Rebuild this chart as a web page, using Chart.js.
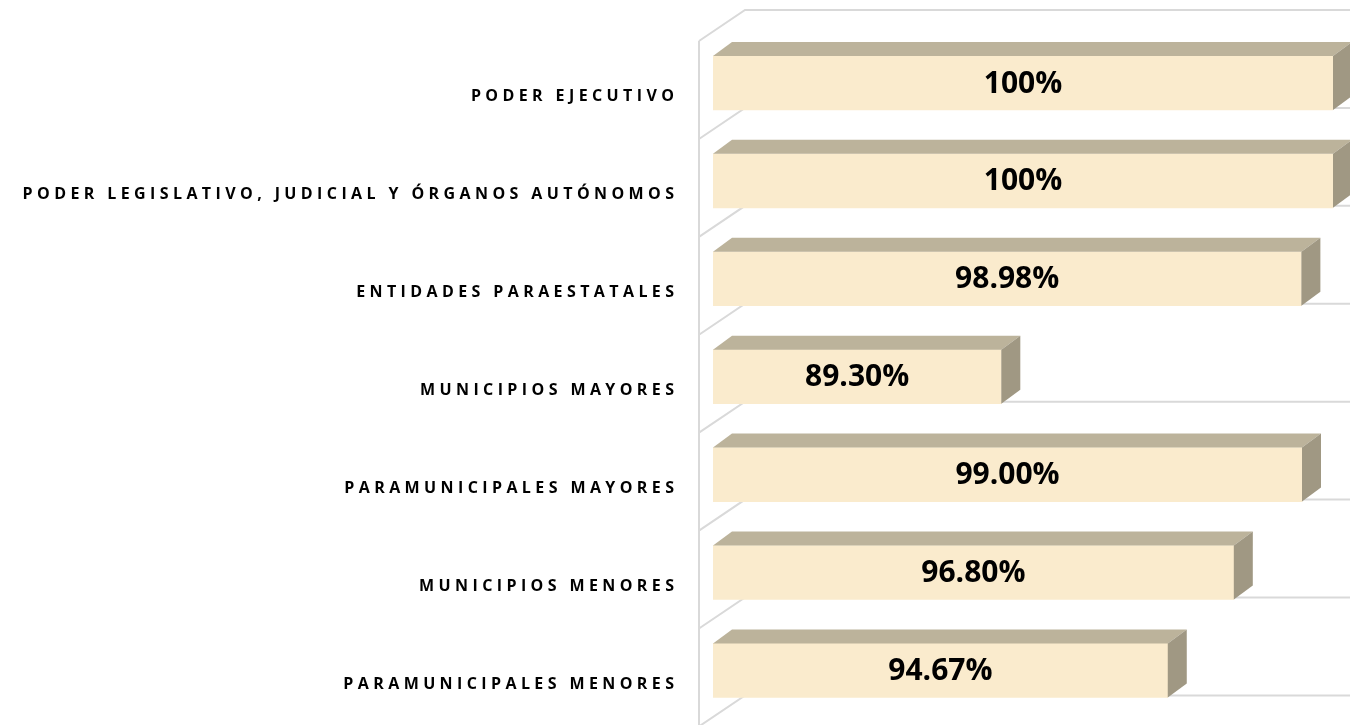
<!DOCTYPE html>
<html lang="es">
<head>
    <meta charset="UTF-8">
    <title>Avance por tipo de ente</title>
    <style>
        body { margin: 0; background: #ffffff; }
        #wrap { width: 1350px; height: 725px; }
    </style>
    <script src="https://cdn.jsdelivr.net/npm/chart.js"></script>
</head>
<body>
<div id="wrap">
    <canvas id="chart" width="1350" height="725"></canvas>
</div>
<script>
    // data
    const categories = [
        'PODER EJECUTIVO',
        'PODER LEGISLATIVO, JUDICIAL Y ÓRGANOS AUTÓNOMOS',
        'ENTIDADES PARAESTATALES',
        'MUNICIPIOS MAYORES',
        'PARAMUNICIPALES MAYORES',
        'MUNICIPIOS MENORES',
        'PARAMUNICIPALES MENORES'
    ];
    const values = [100, 100, 98.98, 89.30, 99.00, 96.80, 94.67];
    const axisMin = 80;
    const axisMax = 100;

    const FRONT = '#FAEBCD';
    const TOP = '#BCB39B';
    const SIDE = '#A09883';
    const WALL = '#D9D9D9';
    const DEPTH_X = 19, DEPTH_Y = 14;   // 3d offset of the bar boxes

    function fmt(v) {
        return v === 100 ? '100%' : v.toFixed(2) + '%';
    }

    // back wall + left wall lines (behind the bars), then box faces and labels
    const wallPlugin = {
        id: 'wall',
        beforeDatasetsDraw(chart) {
            const ctx = chart.ctx;
            const y = chart.scales.y;
            const area = chart.chartArea;
            const half = 27;
            const wallX = area.left - 14;
            const backX = area.left + 32;
            ctx.save();
            ctx.strokeStyle = WALL;
            ctx.lineWidth = 2;
            let firstEnd = null;
            for (let i = -1; i < categories.length; i++) {
                const gy = y.getPixelForValue(i) + half - 2;
                const endY = gy + 31;
                if (firstEnd === null) firstEnd = endY;
                ctx.beginPath();
                ctx.moveTo(chart.width, gy);
                ctx.lineTo(backX, gy);
                ctx.lineTo(wallX, endY);
                ctx.stroke();
            }
            ctx.beginPath();
            ctx.moveTo(wallX, firstEnd);
            ctx.lineTo(wallX, chart.height);
            ctx.stroke();
            ctx.restore();
        },
        afterDatasetsDraw(chart) {
            const ctx = chart.ctx;
            const area = chart.chartArea;
            const meta = chart.getDatasetMeta(0);
            ctx.save();
            meta.data.forEach((bar, i) => {
                const p = bar.getProps(['x', 'y', 'base', 'height'], true);
                const x0 = Math.max(p.base, area.left), x1 = p.x;
                const yT = p.y - p.height / 2, yB = p.y + p.height / 2;
                // top face
                ctx.fillStyle = TOP;
                ctx.beginPath();
                ctx.moveTo(x0, yT);
                ctx.lineTo(x1, yT);
                ctx.lineTo(x1 + DEPTH_X, yT - DEPTH_Y);
                ctx.lineTo(x0 + DEPTH_X, yT - DEPTH_Y);
                ctx.closePath();
                ctx.fill();
                // side face
                ctx.fillStyle = SIDE;
                ctx.beginPath();
                ctx.moveTo(x1, yT);
                ctx.lineTo(x1 + DEPTH_X, yT - DEPTH_Y);
                ctx.lineTo(x1 + DEPTH_X, yB - DEPTH_Y);
                ctx.lineTo(x1, yB);
                ctx.closePath();
                ctx.fill();
                // value label
                ctx.fillStyle = '#000000';
                ctx.font = 'bold 30px "Open Sans"';
                ctx.textAlign = 'center';
                ctx.textBaseline = 'middle';
                ctx.fillText(fmt(values[i]), (x0 + x1) / 2, p.y + 1);
            });

            // category labels, spaced out like the original
            const yScale = chart.scales.y;
            const spacing = 4.4;
            ctx.font = 'bold 16px "Open Sans"';
            ctx.letterSpacing = spacing + 'px';
            ctx.textAlign = 'right';
            ctx.textBaseline = 'alphabetic';
            ctx.fillStyle = '#000000';
            categories.forEach((c, i) => {
                ctx.fillText(c, 677 + spacing - 3, yScale.getPixelForValue(i) + 18.5);
            });
            ctx.restore();
        }
    };

    new Chart(document.getElementById('chart'), {
        type: 'bar',
        data: {
            labels: categories,
            datasets: [{
                data: values,
                backgroundColor: FRONT,
                borderWidth: 0,
                barThickness: 54
            }]
        },
        options: {
            indexAxis: 'y',
            responsive: false,
            animation: false,
            layout: { padding: { left: 713, right: 17, top: 34, bottom: 5.6 } },
            scales: {
                x: { min: axisMin, max: axisMax, display: false },
                y: { display: false }
            },
            plugins: {
                legend: { display: false },
                tooltip: { enabled: false }
            }
        },
        plugins: [wallPlugin]
    });
</script>
</body>
</html>
